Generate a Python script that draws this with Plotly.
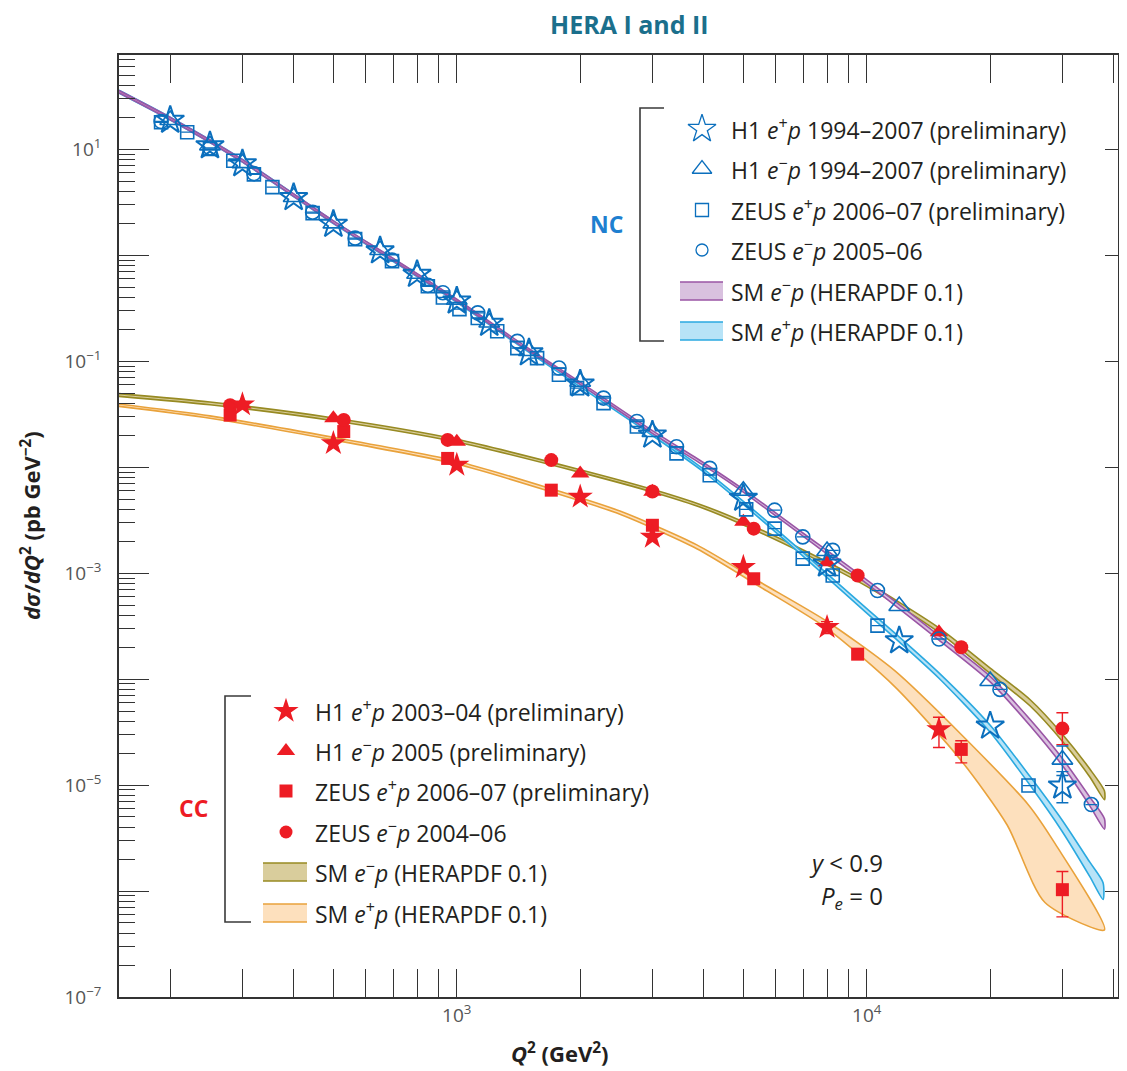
import plotly.graph_objects as go
import math

# ---------------- NC data (dsigma/dQ2, pb/GeV^2) ----------------
nc_h1_ep_q2 = [200, 250, 300, 400, 500, 650, 800, 1000, 1200, 1500, 2000, 3000, 5000, 8000, 12000, 20000, 30000]
nc_h1_ep_s = [18.8, 10.8, 7.3, 3.5, 1.96, 1.10, 0.66, 0.37, 0.228, 0.120, 0.061, 0.0201, 5.1e-3, 1.22e-3, 2.3e-4, 3.6e-5, 9.8e-6]
nc_h1_ep_eu = [0]*16 + [2.5e-6]
nc_h1_ep_ed = [0]*16 + [3.0e-6]

nc_h1_em_q2 = [200, 250, 300, 400, 500, 650, 800, 1000, 1200, 1500, 2000, 3000, 5000, 8000, 12000, 20000, 30000]
nc_h1_em_s = [18.9, 10.9, 7.4, 3.55, 2.0, 1.12, 0.67, 0.38, 0.232, 0.125, 0.064, 0.0215, 6.0e-3, 1.62e-3, 4.9e-4, 9.6e-5, 1.74e-5]
nc_h1_em_eu = [0]*16 + [0.6e-5]
nc_h1_em_ed = [0]*16 + [0.4e-5]

nc_zeus_ep_q2 = [190, 220, 250, 285, 320, 355, 445, 565, 695, 850, 925, 1015, 1125, 1255, 1405, 1570, 1775, 1965,
                 2280, 2750, 3435, 4140, 5080, 5960, 6980, 8260, 10620, 24800]
nc_zeus_ep_s = [18.0, 14.5, 10.1, 7.8, 5.8, 4.4, 2.5, 1.42, 0.88, 0.51, 0.40, 0.31, 0.256, 0.192, 0.133, 0.107, 0.0745,
                0.0557, 0.0402, 0.0242, 0.0135, 8.4e-3, 4.0e-3, 2.63e-3, 1.37e-3, 9.5e-4, 3.2e-4, 9.9e-6]

nc_zeus_em_q2 = [190, 250, 320, 445, 565, 695, 850, 925, 1125, 1405, 1775, 2280, 2750, 3435, 4140, 5960, 6980, 8260,
                 10620, 15000, 21130, 35300]
nc_zeus_em_s = [18.3, 10.3, 5.9, 2.55, 1.45, 0.90, 0.52, 0.443, 0.286, 0.154, 0.0863, 0.0449, 0.0270, 0.0156, 9.75e-3,
                3.93e-3, 2.2e-3, 1.64e-3, 6.85e-4, 2.39e-4, 8.0e-5, 6.55e-6]

# ---------------- CC data ----------------
cc_h1_ep_q2 = [300, 500, 1000, 2000, 3000, 5000, 8000, 15000]
cc_h1_ep_s = [0.039, 0.0168, 0.0105, 5.25e-3, 2.2e-3, 1.14e-3, 3.09e-4, 3.36e-5]
cc_h1_ep_eu = [0, 0, 0, 0, 0, 0, 0.4e-4, 1.0e-5]
cc_h1_ep_ed = [0, 0, 0, 0, 0, 0, 0.4e-4, 1.1e-5]

cc_h1_em_q2 = [300, 500, 1000, 2000, 3000, 5000, 8000, 15000]
cc_h1_em_s = [0.039, 0.029, 0.0174, 8.7e-3, 5.86e-3, 3.05e-3, 1.27e-3, 2.77e-4]

cc_zeus_ep_q2 = [280, 530, 950, 1700, 3000, 5300, 9500, 17000, 30000]
cc_zeus_ep_s = [0.031, 0.0217, 0.0121, 6.07e-3, 2.83e-3, 8.85e-4, 1.72e-4, 2.17e-5, 1.03e-6]
cc_zeus_ep_eu = [0, 0, 0, 0, 0, 0, 0, 0.45e-5, 0.5e-6]
cc_zeus_ep_ed = [0, 0, 0, 0, 0, 0, 0, 0.55e-5, 0.46e-6]

cc_zeus_em_q2 = [280, 530, 950, 1700, 3000, 5300, 9500, 17000, 30000]
cc_zeus_em_s = [0.0385, 0.0279, 0.0181, 0.01167, 5.9e-3, 2.63e-3, 9.5e-4, 2.0e-4, 3.41e-5]
cc_zeus_em_eu = [0, 0, 0, 0, 0, 0, 0, 0, 1.4e-5]
cc_zeus_em_ed = [0, 0, 0, 0, 0, 0, 0, 0, 1.0e-5]

# ---------------- SM (HERAPDF 0.1) predictions ----------------
sm_nc_ep_q2 = [150, 200, 300, 500, 700, 1000, 1500, 2000, 3000, 4000, 5000, 7000, 10000, 12000, 15000, 20000, 25000, 30000, 35000, 37700]
sm_nc_ep_s = [35, 19.5, 7.8, 2.05, 0.90, 0.37, 0.125, 0.059, 0.0205, 9.3e-3, 4.6e-3, 1.5e-3, 4.4e-4, 2.37e-4, 1.08e-4, 3.4e-5, 1.1e-5, 4.1e-6, 1.6e-6, 1.0e-6]
sm_nc_ep_rel = [0.03, 0.03, 0.03, 0.03, 0.03, 0.03, 0.03, 0.03, 0.03, 0.03, 0.035, 0.04, 0.05, 0.055, 0.06, 0.08, 0.10, 0.13, 0.17, 0.20]

sm_nc_em_q2 = [150, 200, 300, 500, 700, 1000, 1500, 2000, 3000, 4000, 5000, 7000, 10000, 15000, 20000, 25000, 30000, 35000, 38000]
sm_nc_em_s = [35, 19.5, 7.8, 2.06, 0.91, 0.375, 0.128, 0.062, 0.0215, 0.0107, 6.0e-3, 2.3e-3, 8.3e-4, 2.45e-4, 1.0e-4, 3.9e-5, 1.65e-5, 7.0e-6, 4.3e-6]
sm_nc_em_rel = [0.025, 0.025, 0.025, 0.025, 0.025, 0.025, 0.025, 0.025, 0.03, 0.03, 0.03, 0.035, 0.04, 0.05, 0.06, 0.07, 0.08, 0.10, 0.12]

sm_cc_em_q2 = [150, 250, 500, 1000, 2000, 3000, 4000, 5000, 7000, 10000, 15000, 20000, 25000, 30000, 35000, 38000]
sm_cc_em_s = [0.048, 0.040, 0.0283, 0.0178, 9.2e-3, 6.0e-3, 4.2e-3, 2.95e-3, 1.6e-3, 7.8e-4, 2.9e-4, 1.2e-4, 6.0e-5, 2.8e-5, 1.3e-5, 8e-6]
sm_cc_em_rel = [0.03, 0.03, 0.03, 0.03, 0.03, 0.03, 0.03, 0.035, 0.035, 0.04, 0.05, 0.06, 0.07, 0.08, 0.09, 0.10]

sm_cc_ep_up_q2 = [150, 250, 500, 1000, 1700, 2500, 3850, 5500, 8000, 11700, 17000, 24800, 28800, 38000]
sm_cc_ep_up_s = [0.0395, 0.0305, 0.0191, 0.0114, 6.25e-3, 3.85e-3, 1.85e-3, 8.2e-4, 3.5e-4, 1.2e-4, 3.0e-5, 6.5e-6, 2.8e-6, 4.3e-7]
sm_cc_ep_dn_q2 = [150, 250, 500, 1000, 1700, 2500, 3850, 5500, 8000, 11700, 17000, 22000, 27200]
sm_cc_ep_dn_s = [0.0375, 0.029, 0.0181, 0.0107, 5.85e-3, 3.6e-3, 1.7e-3, 7.4e-4, 3.0e-4, 8.5e-5, 1.7e-5, 4.2e-6, 7.8e-7]

# ---------------- tick labels ----------------
y_label_decades = [-7, -5, -3, -1, 1]
y_ticktext = ["10<sup>%s</sup>" % str(k).replace("-", "\u2212") for k in y_label_decades]
y_plain_decades = [-6, -4, -2, 0]
x_decades = [3, 4]
x_ticktext = ["10<sup>3</sup>", "10<sup>4</sup>"]

# ---------------- styles ----------------
BLUE = "#0b6fbd"
RED = "#ed1c24"
FONT = "Open Sans"
TXT = "#231f20"
YR = [-7, 1.89]
XR = [math.log10(150), math.log10(41000)]

fig = go.Figure()


def band_sym(q2, s, rel, fill, edge):
    up = [v * (1 + r) for v, r in zip(s, rel)]
    dn = [v / (1 + r) for v, r in zip(s, rel)]
    fig.add_trace(go.Scatter(x=list(q2) + list(q2)[::-1], y=up + dn[::-1], mode="lines", fill="toself",
                             fillcolor=fill, line=dict(color=edge, width=1.6, shape="spline", smoothing=0.7),
                             hoverinfo="skip", showlegend=False))


def band_edges(q2u, su, q2d, sd, fill, edge):
    fig.add_trace(go.Scatter(x=list(q2u) + list(q2d)[::-1], y=list(su) + list(sd)[::-1], mode="lines", fill="toself",
                             fillcolor=fill, line=dict(color=edge, width=1.6, shape="spline", smoothing=0.7),
                             hoverinfo="skip", showlegend=False))


band_edges(sm_cc_ep_up_q2, sm_cc_ep_up_s, sm_cc_ep_dn_q2, sm_cc_ep_dn_s, "rgba(253,218,178,0.85)", "#e9a23b")
band_sym(sm_cc_em_q2, sm_cc_em_s, sm_cc_em_rel, "#d9cd9c", "#978a22")
band_sym(sm_nc_ep_q2, sm_nc_ep_s, sm_nc_ep_rel, "#b7e3f7", "#2aa9e0")
band_sym(sm_nc_em_q2, sm_nc_em_s, sm_nc_em_rel, "#d9c1df", "#9a55a5")


def data(q2, s, symbol, color, size, eu=None, ed=None, lw=1.6, caps=0):
    fig.add_trace(go.Scatter(x=q2, y=s, mode="markers",
                             marker=dict(symbol=symbol, size=size, color=color, line=dict(color=color, width=lw)),
                             error_y=dict(type="data", array=[0]*len(s), color=color, thickness=1.3, width=caps,
                                          visible=caps > 0),
                             hoverinfo="skip", showlegend=False))
    if eu is not None:
        idx = [i for i in range(len(s)) if eu[i] > 0 or ed[i] > 0]
        fig.add_trace(go.Scatter(x=[q2[i] for i in idx], y=[s[i] for i in idx], mode="markers",
                                 marker=dict(size=1, color=color, opacity=0),
                                 error_y=dict(type="data", array=[eu[i] for i in idx],
                                              arrayminus=[ed[i] for i in idx], color=color, thickness=1.4, width=6),
                                 hoverinfo="skip", showlegend=False))


# CC data (red, filled)
data(cc_zeus_ep_q2, cc_zeus_ep_s, "square", RED, 13, cc_zeus_ep_eu, cc_zeus_ep_ed, lw=0)
data(cc_zeus_em_q2, cc_zeus_em_s, "circle", RED, 14, cc_zeus_em_eu, cc_zeus_em_ed, lw=0)
data(cc_h1_em_q2, cc_h1_em_s, "triangle-up", RED, 16, lw=0)
data(cc_h1_ep_q2, cc_h1_ep_s, "star", RED, 19, cc_h1_ep_eu, cc_h1_ep_ed, lw=0)

# NC data (blue, open)
data(nc_zeus_ep_q2, nc_zeus_ep_s, "square-open", BLUE, 13, caps=6)
data(nc_zeus_em_q2, nc_zeus_em_s, "circle-open", BLUE, 14, caps=6)
data(nc_h1_em_q2, nc_h1_em_s, "triangle-up-open", BLUE, 18, nc_h1_em_eu, nc_h1_em_ed)
data(nc_h1_ep_q2, nc_h1_ep_s, "star-open", BLUE, 21, nc_h1_ep_eu, nc_h1_ep_ed, lw=2)

# ---------------- page geometry (the page body adds an 8 px offset) ----------------
OFF = 8
L, R, T, B = 119, 1118, 55, 997          # plot frame in page pixels
W, H = 1127 - OFF, 1071 - OFF            # figure size so it fits the window


def fx(px):
    return (px - L) / (R - L)


def fy(py):
    return (B - py) / (B - T)


nc_labels = ["H1 <i>e</i><sup>+</sup><i>p</i> 1994\u20132007 (preliminary)",
             "H1 <i>e</i><sup>\u2212</sup><i>p</i> 1994\u20132007 (preliminary)",
             "ZEUS <i>e</i><sup>+</sup><i>p</i> 2006\u201307 (preliminary)",
             "ZEUS <i>e</i><sup>\u2212</sup><i>p</i> 2005\u201306",
             "SM <i>e</i><sup>\u2212</sup><i>p</i> (HERAPDF 0.1)",
             "SM <i>e</i><sup>+</sup><i>p</i> (HERAPDF 0.1)"]
cc_labels = ["H1 <i>e</i><sup>+</sup><i>p</i> 2003\u201304 (preliminary)",
             "H1 <i>e</i><sup>\u2212</sup><i>p</i> 2005 (preliminary)",
             "ZEUS <i>e</i><sup>+</sup><i>p</i> 2006\u201307 (preliminary)",
             "ZEUS <i>e</i><sup>\u2212</sup><i>p</i> 2004\u201306",
             "SM <i>e</i><sup>\u2212</sup><i>p</i> (HERAPDF 0.1)",
             "SM <i>e</i><sup>+</sup><i>p</i> (HERAPDF 0.1)"]
nc_syms = [("star-open", 21), ("triangle-up-open", 17), ("square-open", 13), ("circle-open", 12)]
cc_syms = [("star", 19), ("triangle-up", 16), ("square", 13), ("circle", 13)]
nc_rows = [129, 169, 210, 250, 291, 331]
cc_rows = [711, 751, 791, 832, 872, 913]

for (sym, sz), py in zip(nc_syms, nc_rows):
    fig.add_trace(go.Scatter(x=[fx(702)], y=[fy(py)], xaxis="x2", yaxis="y2", mode="markers",
                             marker=dict(symbol=sym, size=sz, color=BLUE, line=dict(color=BLUE, width=1.3)),
                             hoverinfo="skip", showlegend=False))
for (sym, sz), py in zip(cc_syms, cc_rows):
    fig.add_trace(go.Scatter(x=[fx(286)], y=[fy(py)], xaxis="x2", yaxis="y2", mode="markers",
                             marker=dict(symbol=sym, size=sz, color=RED, line=dict(width=0)),
                             hoverinfo="skip", showlegend=False))

annotations = []
shapes = []
LEGSIZE = 23


def note(px, py, text, size, color=TXT, xanchor="center", angle=0):
    annotations.append(dict(x=fx(px), y=fy(py), xref="paper", yref="paper", text=text, showarrow=False,
                            xanchor=xanchor, yanchor="middle", textangle=angle,
                            font=dict(family=FONT, size=size, color=color)))


for lab, py in zip(nc_labels, nc_rows):
    note(729, py, lab, LEGSIZE, xanchor="left")
for lab, py in zip(cc_labels, cc_rows):
    note(313, py, lab, LEGSIZE, xanchor="left")


def swatch(x0, x1, py, fill, edge):
    shapes.append(dict(type="rect", xref="paper", yref="paper", x0=fx(x0), x1=fx(x1), y0=fy(py + 9), y1=fy(py - 9),
                       fillcolor=fill, line=dict(width=0)))
    for yy in (py - 9, py + 9):
        shapes.append(dict(type="line", xref="paper", yref="paper", x0=fx(x0), x1=fx(x1), y0=fy(yy), y1=fy(yy),
                           line=dict(color=edge, width=1.6)))


swatch(680, 723, nc_rows[4], "#d9c1df", "#9a55a5")
swatch(680, 723, nc_rows[5], "#b7e3f7", "#2aa9e0")
swatch(263, 307, cc_rows[4], "#d9cd9c", "#978a22")
swatch(263, 307, cc_rows[5], "rgba(253,218,178,0.85)", "#e9a23b")


def bracket(xv, xh, y0, y1):
    pts = [(xh, y0), (xv, y0), (xv, y1), (xh, y1)]
    path = "M %f %f L %f %f L %f %f L %f %f" % tuple(v for p in pts for v in (fx(p[0]), fy(p[1])))
    shapes.append(dict(type="path", xref="paper", yref="paper", path=path, line=dict(color="#3a3a3a", width=1.6)))


bracket(640, 664, 108, 341)
bracket(225, 251, 696, 922)

note(606, 224, "<b>NC</b>", 23, "#1e7fd0")
note(193, 808, "<b>CC</b>", 23, RED)
note(885, 862, "<i>y</i> < 0.9", 24, xanchor="right")
note(885, 897, "<i>P<sub>e</sub></i> = 0", 24, xanchor="right")
note(629, 24, "<b>HERA I and II</b>", 25, "#1b6f8c")
note(560, 1052, "<b><i>Q</i><sup>2</sup> (GeV<sup>2</sup>)</b>", 22)
note(30, 526, "<b><i>d\u03c3</i>/<i>dQ</i><sup>2</sup> (pb GeV<sup>\u22122</sup>)</b>", 22, angle=-90)

# minor tick positions (2..9 per decade)
y_minor = [m * 10.0 ** k for k in range(-7, 2) for m in range(2, 10)]
x_minor = [m * 10.0 ** k for k in range(2, 5) for m in range(2, 10)]

AX = "#333333"
TICKFONT = dict(family=FONT, size=19, color="#555555")
fig.update_layout(
    width=W, height=H,
    margin=dict(l=L - OFF, r=W - (R - OFF), t=T - OFF, b=H - (B - OFF), autoexpand=False),
    paper_bgcolor="white", plot_bgcolor="white",
    showlegend=False,
    xaxis=dict(type="log", range=XR, automargin=False,
               tickmode="array", tickvals=[10.0 ** k for k in x_decades], ticktext=x_ticktext,
               ticks="inside", ticklen=28, tickwidth=1.3, tickcolor=AX,
               minor=dict(tickmode="array", tickvals=x_minor, ticks="inside", ticklen=14, tickwidth=1.3, tickcolor=AX),
               showline=True, linecolor=AX, linewidth=1.6, mirror="allticks", showgrid=False, zeroline=False,
               tickfont=TICKFONT),
    yaxis=dict(type="log", range=YR, automargin=False,
               tickmode="array", tickvals=[10.0 ** k for k in y_label_decades], ticktext=y_ticktext,
               ticks="inside", ticklen=30, tickwidth=1.3, tickcolor=AX,
               minor=dict(tickmode="array", tickvals=y_minor, ticks="inside", ticklen=16, tickwidth=1.1, tickcolor=AX),
               showline=True, linecolor=AX, linewidth=1.6, mirror=True, showgrid=False, zeroline=False,
               ticklabelstandoff=12, tickfont=TICKFONT),
    yaxis3=dict(type="log", range=YR, overlaying="y", side="right", automargin=False, tickmode="array",
                tickvals=[10.0 ** k for k in range(-7, 2)], showticklabels=False,
                ticks="inside", ticklen=13, tickwidth=1.3, tickcolor=AX, showgrid=False, zeroline=False,
                showline=False),
    yaxis4=dict(type="log", range=YR, overlaying="y", side="left", automargin=False, tickmode="array",
                tickvals=[10.0 ** k for k in y_plain_decades], showticklabels=False,
                ticks="inside", ticklen=30, tickwidth=1.3, tickcolor=AX, showgrid=False, zeroline=False,
                showline=False),
    xaxis2=dict(overlaying="x", range=[0, 1], visible=False),
    yaxis2=dict(overlaying="y", range=[0, 1], visible=False),
    annotations=annotations,
    shapes=shapes,
)
for ax in ("y3", "y4"):
    fig.add_trace(go.Scatter(x=[1000], y=[1e-3], yaxis=ax, mode="markers", marker=dict(opacity=0),
                             hoverinfo="skip", showlegend=False))

fig.write_html("out.html")
